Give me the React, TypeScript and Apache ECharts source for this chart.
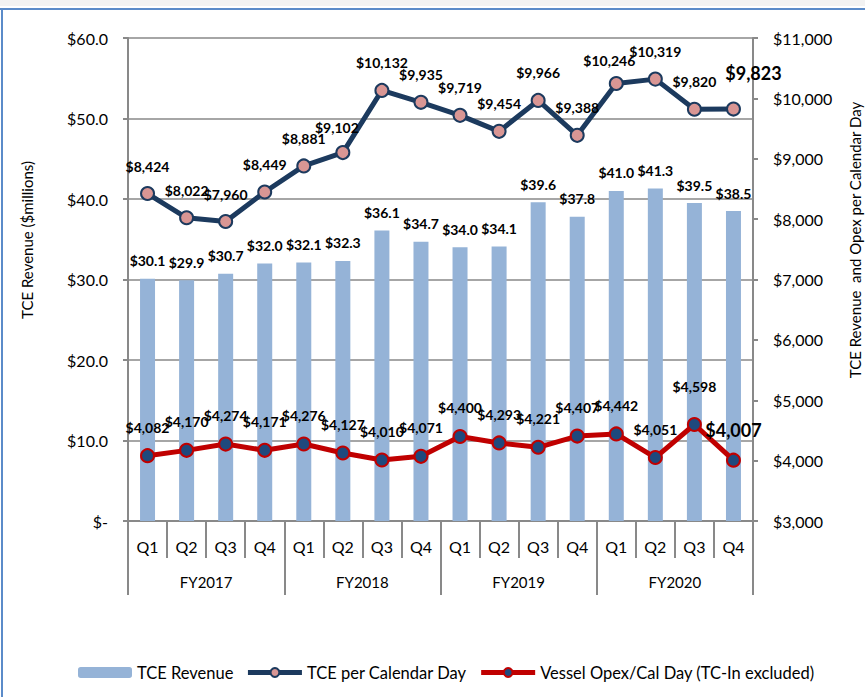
import React, { useEffect, useRef } from "react";
import * as echarts from "echarts";

const quarters = ["Q1", "Q2", "Q3", "Q4", "Q1", "Q2", "Q3", "Q4", "Q1", "Q2", "Q3", "Q4", "Q1", "Q2", "Q3", "Q4"];
const fiscalYears = ["FY2017", "FY2018", "FY2019", "FY2020"];
const tceRevenue = [30.1, 29.9, 30.7, 32.0, 32.1, 32.3, 36.1, 34.7, 34.0, 34.1, 39.6, 37.8, 41.0, 41.3, 39.5, 38.5];
const tcePerDay = [8424, 8022, 7960, 8449, 8881, 9102, 10132, 9935, 9719, 9454, 9966, 9388, 10246, 10319, 9820, 9823];
const opexPerDay = [4082, 4170, 4274, 4171, 4276, 4127, 4010, 4071, 4400, 4293, 4221, 4407, 4442, 4051, 4598, 4007];

const FONT = "Lato, 'Noto Sans', sans-serif";
const GRAY = "#898989";
const NAVY = "#1C3A5E";
const RED = "#C00000";

const money = (v: number) => "$" + v.toLocaleString("en-US");

export default function App() {
  const ref = useRef<HTMLDivElement>(null);
  useEffect(() => {
    if (!ref.current) return;
    const chart = echarts.init(ref.current, null, { renderer: "svg" });
    const last = tcePerDay.length - 1;
    const tceData = tcePerDay.map((v, i) =>
      i === last
        ? { value: v, label: { fontSize: 18, offset: [20, -7] } }
        : i === 12
        ? { value: v, label: { offset: [-7, 4] } }
        : i === 5
        ? { value: v, label: { offset: [-6, 2] } }
        : v
    );
    const opexData = opexPerDay.map((v, i) =>
      i === last
        ? { value: v, label: { fontSize: 18 } }
        : i === 14
        ? { value: v, label: { offset: [0, -10] } }
        : v
    );
    chart.setOption({
      animation: false,
      textStyle: { fontFamily: FONT },
      grid: { left: 128, right: 112, top: 38, bottom: 176 },
      graphic: [
        { type: "rect", shape: { x: 0, y: 0, width: 865, height: 6 }, style: { fill: "#f2f2f2" }, silent: true },
        { type: "line", shape: { x1: 0, y1: 9, x2: 865, y2: 9 }, style: { stroke: "#5B8BC9", lineWidth: 2 }, silent: true },
        { type: "line", shape: { x1: 2, y1: 9, x2: 2, y2: 697 }, style: { stroke: "#5B8BC9", lineWidth: 2 }, silent: true },
        {
          type: "text",
          x: 27,
          y: 240,
          rotation: Math.PI / 2,
          style: { text: "TCE Revenue ($millions)", fontSize: 15, fontFamily: FONT, fill: "#000", align: "center", verticalAlign: "middle" },
        },
        {
          type: "text",
          x: 855,
          y: 240,
          rotation: Math.PI / 2,
          style: { text: "TCE Revenue  and Opex per Calendar Day", fontSize: 15, fontFamily: FONT, fill: "#000", align: "center", verticalAlign: "middle" },
        },
      ],
      legend: {
        left: 78,
        top: 664,
        padding: 0,
        itemWidth: 54,
        itemHeight: 11,
        itemGap: 12,
        textStyle: { fontSize: 16.5, fontFamily: FONT, color: "#000" },
        data: [
          { name: "TCE Revenue" },
          { name: "TCE per Calendar Day", lineStyle: { width: 5, color: NAVY } },
          { name: "Vessel Opex/Cal Day (TC-In excluded)", lineStyle: { width: 5, color: RED } },
        ],
      },
      xAxis: [
        {
          type: "category",
          data: quarters,
          position: "bottom",
          axisLine: { show: true, lineStyle: { color: GRAY, width: 2 } },
          axisTick: { show: true, interval: 0, length: 37, lineStyle: { color: GRAY, width: 2 } },
          axisLabel: { interval: 0, margin: 17, fontSize: 16, color: "#000", fontFamily: FONT },
        },
        {
          type: "category",
          data: fiscalYears,
          position: "bottom",
          axisLine: { show: false },
          axisTick: { show: true, interval: 0, length: 74, lineStyle: { color: GRAY, width: 2 } },
          axisLabel: { interval: 0, margin: 53, fontSize: 15, color: "#000", fontFamily: FONT },
        },
      ],
      yAxis: [
        {
          type: "value",
          min: 0,
          max: 60,
          interval: 10,
          position: "left",
          axisLine: { show: true, lineStyle: { color: GRAY, width: 2 } },
          axisTick: { show: true, length: 5, lineStyle: { color: GRAY, width: 2 } },
          splitLine: { show: true, lineStyle: { color: GRAY, width: 1.5 } },
          axisLabel: {
            margin: 20,
            fontSize: 16,
            color: "#000",
            fontFamily: FONT,
            formatter: (v: number) => (v === 0 ? "$-" : "$" + v.toFixed(1)),
          },
        },
        {
          type: "value",
          min: 3000,
          max: 11000,
          interval: 1000,
          position: "right",
          axisLine: { show: true, lineStyle: { color: GRAY, width: 2 } },
          axisTick: { show: true, length: 5, lineStyle: { color: GRAY, width: 2 } },
          splitLine: { show: false },
          axisLabel: { margin: 20, fontSize: 16, color: "#000", fontFamily: FONT, formatter: (v: number) => money(v) },
        },
      ],
      series: [
        {
          name: "TCE Revenue",
          type: "bar",
          xAxisIndex: 0,
          yAxisIndex: 0,
          data: tceRevenue,
          barWidth: 15,
          itemStyle: { color: "#95B3D7" },
          label: {
            show: true,
            position: "top",
            distance: 11,
            fontSize: 14,
            fontWeight: "bold",
            color: "#000",
            fontFamily: FONT,
            formatter: (p: any) => "$" + Number(p.value).toFixed(1),
          },
          z: 1,
        },
        {
          name: "TCE per Calendar Day",
          type: "line",
          xAxisIndex: 0,
          yAxisIndex: 1,
          data: tceData,
          symbol: "circle",
          symbolSize: 13,
          lineStyle: { color: NAVY, width: 5 },
          itemStyle: { color: "#D99694", borderColor: NAVY, borderWidth: 2 },
          label: {
            show: true,
            position: "top",
            distance: 13,
            fontSize: 14,
            fontWeight: "bold",
            color: "#000",
            fontFamily: FONT,
            formatter: (p: any) => money(Number(p.value)),
          },
          z: 3,
        },
        {
          name: "Vessel Opex/Cal Day (TC-In excluded)",
          type: "line",
          xAxisIndex: 0,
          yAxisIndex: 1,
          data: opexData,
          symbol: "circle",
          symbolSize: 13,
          lineStyle: { color: RED, width: 5 },
          itemStyle: { color: "#1F497D", borderColor: RED, borderWidth: 2 },
          label: {
            show: true,
            position: "top",
            distance: 14,
            fontSize: 14,
            fontWeight: "bold",
            color: "#000",
            fontFamily: FONT,
            formatter: (p: any) => money(Number(p.value)),
          },
          z: 3,
        },
      ],
    });
    return () => chart.dispose();
  }, []);
  return <div ref={ref} style={{ position: "absolute", left: 0, top: 0, width: 865, height: 697, background: "#fff" }} />;
}
